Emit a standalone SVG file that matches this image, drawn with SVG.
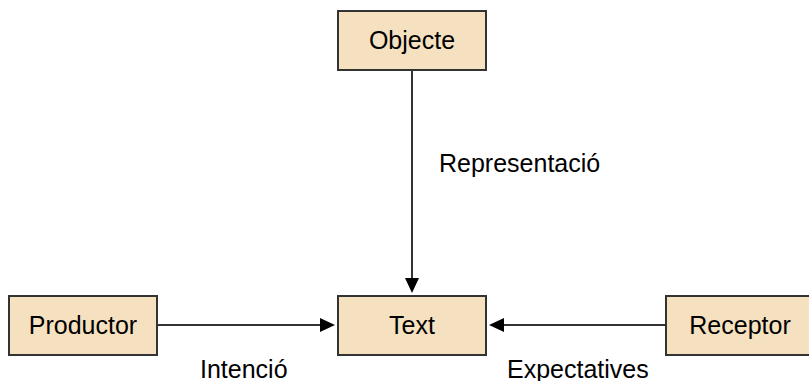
<svg xmlns="http://www.w3.org/2000/svg" width="809" height="381" viewBox="0 0 809 381">
<style>
.box{fill:#f5e0c0;stroke:#333;stroke-width:2}
.t{font-family:"Liberation Sans",Arial,sans-serif;font-size:25px;fill:#000;text-anchor:middle}
.l{font-family:"Liberation Sans",Arial,sans-serif;font-size:25px;fill:#000}
.c{stroke:#333;stroke-width:2;fill:none}
.ah{fill:#000}
</style>
<g id="connectors">
<line class="c" x1="412" y1="71" x2="412" y2="279"/>
<path class="ah" d="M405,278 L419,278 L412,293 z"/>
<line class="c" x1="157" y1="325" x2="321" y2="325"/>
<path class="ah" d="M320,318 L335,325 L320,332 z"/>
<line class="c" x1="666" y1="325" x2="503" y2="325"/>
<path class="ah" d="M504,318 L489,325 L504,332 z"/>
<text class="l" x="439" y="172">Representació</text>
<text class="l" x="200" y="378">Intenció</text>
<text class="l" x="507" y="378">Expectatives</text>
</g>
<g id="objecte">
<rect class="box" x="338" y="11" width="148" height="59"/>
<text class="t" x="412" y="49">Objecte</text>
</g>
<g id="productor">
<rect class="box" x="9" y="296" width="148" height="59"/>
<text class="t" x="83" y="334">Productor</text>
</g>
<g id="text">
<rect class="box" x="338" y="296" width="148" height="59"/>
<text class="t" x="412" y="334">Text</text>
</g>
<g id="receptor">
<rect class="box" x="666" y="296" width="148" height="59"/>
<text class="t" x="740" y="334">Receptor</text>
</g>
</svg>
